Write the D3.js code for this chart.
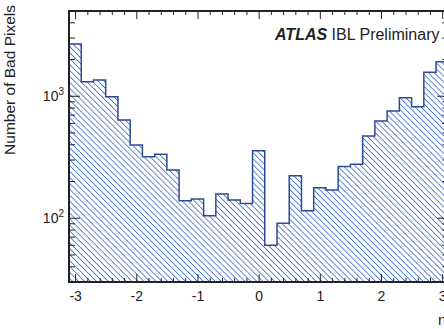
<!DOCTYPE html>
<html>
<head>
<meta charset="utf-8">
<script src="https://cdn.jsdelivr.net/npm/d3@7"></script>
<style>
  body { margin: 0; background: #fff; }
  svg { display: block; }
</style>
</head>
<body>
<svg id="vis" width="444" height="329"></svg>
<script>
// bin lower edges in eta, width 0.2
const binEdges = [-3.1, -2.9, -2.7, -2.5, -2.3, -2.1, -1.9, -1.7, -1.5, -1.3, -1.1, -0.9, -0.7, -0.5, -0.3, -0.1,
    0.1, 0.3, 0.5, 0.7, 0.9, 1.1, 1.3, 1.5, 1.7, 1.9, 2.1, 2.3, 2.5, 2.7, 2.9];
const badPixels = [2680, 1316, 1359, 992, 639, 398, 319, 334, 248, 139, 144, 105, 158, 141, 132, 358,
    60, 91, 223, 115, 178, 170, 265, 277, 472, 627, 757, 973, 821, 1572, 1920];
const xTicks = [-3, -2, -1, 0, 1, 2, 3];
const yMajor = [100, 1000];
const yMinor = [40, 50, 60, 70, 80, 90, 200, 300, 400, 500, 600, 700, 800, 900, 2000, 3000, 4000];

const margin = { top: 11, left: 69 };
const width = 379.3;
const height = 271;
const binW = 0.2;

const svg = d3.select('#vis');

const defs = svg.append('defs');
const pat = defs.append('pattern')
    .attr('id', 'hatch')
    .attr('patternUnits', 'userSpaceOnUse')
    .attr('width', 4.2)
    .attr('height', 4.2)
    .attr('patternTransform', 'rotate(-45)');
pat.append('rect').attr('width', 4.2).attr('height', 4.2).attr('fill', '#fff');
pat.append('line')
    .attr('x1', 0).attr('y1', 0).attr('x2', 0).attr('y2', 4.2)
    .attr('stroke', '#1f56c8').attr('stroke-width', 1.4);

defs.append('clipPath').attr('id', 'clip')
    .append('rect').attr('width', width).attr('height', height);

const g = svg.append('g')
    .attr('transform', 'translate(' + margin.left + ', ' + margin.top + ')');

const xScale = d3.scaleLinear().domain([-3.1, 3.1]).range([0, width]);
const yScale = d3.scaleLog().domain([30, 5000]).range([height, 0]);

// histogram outline
const pts = [[xScale(binEdges[0]), height]];
binEdges.forEach((e, i) => {
    pts.push([xScale(e), yScale(badPixels[i])]);
    pts.push([xScale(e + binW), yScale(badPixels[i])]);
});
pts.push([xScale(binEdges[binEdges.length - 1] + binW), height]);

const plot = g.append('g').attr('clip-path', 'url(#clip)');
plot.append('path')
    .attr('d', d3.line()(pts) + 'Z')
    .attr('fill', 'url(#hatch)')
    .attr('stroke', 'none');
plot.append('path')
    .attr('d', d3.line()(pts))
    .attr('fill', 'none')
    .attr('stroke', '#2d4a98')
    .attr('stroke-width', 1.5);

// x ticks, bottom and top
const xMinor = d3.range(-31, 32, 1).map(d => d / 10).filter(d => Math.abs(Math.round(d * 10)) % 2 === 0 && !Number.isInteger(d));

function xAxes(gen, ty, labels) {
    g.append('g')
        .attr('transform', 'translate(0, ' + ty + ')')
        .call(gen(xScale).tickValues(xMinor).tickSize(-4).tickFormat(''))
        .call(a => a.select('.domain').remove())
        .selectAll('line').attr('stroke', '#222').attr('stroke-width', 1);
    const maj = g.append('g')
        .attr('transform', 'translate(0, ' + ty + ')')
        .call(gen(xScale).tickValues(xTicks).tickSize(-8).tickPadding(9).tickFormat(''))
        .call(a => a.select('.domain').remove());
    maj.selectAll('line').attr('stroke', '#222').attr('stroke-width', 1);
    if (labels) {
        maj.selectAll('text')
            .attr('font-size', '14px')
            .attr('font-family', 'Liberation Sans, Arial, Helvetica')
            .attr('fill', '#222')
            .text(d => d < 0 ? '-' + Math.abs(d) : d);
    } else {
        maj.selectAll('text').remove();
    }
}
xAxes(d3.axisBottom, height, true);
xAxes(d3.axisTop, 0, false);

// y ticks, left and right
function yTicks(x0, dir) {
    g.append('g').selectAll('line')
        .data(yMinor).enter().append('line')
        .attr('x1', x0).attr('x2', x0 + dir * 6)
        .attr('y1', d => yScale(d)).attr('y2', d => yScale(d))
        .attr('stroke', '#222').attr('stroke-width', 1);
    g.append('g').selectAll('line')
        .data(yMajor).enter().append('line')
        .attr('x1', x0).attr('x2', x0 + dir * 11)
        .attr('y1', d => yScale(d)).attr('y2', d => yScale(d))
        .attr('stroke', '#222').attr('stroke-width', 1);
}
yTicks(0, 1);
yTicks(width, -1);

const yLab = g.append('g').selectAll('text')
    .data(yMajor).enter().append('text')
    .attr('x', -5)
    .attr('y', d => yScale(d) + 5)
    .attr('text-anchor', 'end')
    .attr('font-size', '14px')
    .attr('font-family', 'Liberation Sans, Arial, Helvetica')
    .attr('fill', '#222');
yLab.append('tspan').text('10');
yLab.append('tspan')
    .attr('font-size', '10px')
    .attr('dy', -6)
    .text(d => Math.round(Math.log10(d)));

// frame
g.append('rect')
    .attr('width', width)
    .attr('height', height)
    .attr('fill', 'none')
    .attr('stroke', '#222')
    .attr('stroke-width', 2);

// titles
svg.append('text')
    .attr('transform', 'translate(15, 5) rotate(-90)')
    .attr('text-anchor', 'end')
    .attr('font-size', '15.5px')
    .attr('font-family', 'Liberation Sans, Arial, Helvetica')
    .attr('fill', '#222')
    .text('Number of Bad Pixels');

svg.append('text')
    .attr('x', 438)
    .attr('y', 325)
    .attr('font-size', '15px')
    .attr('font-family', 'Liberation Sans, Arial, Helvetica')
    .attr('fill', '#222')
    .text('η');

const lab = svg.append('text')
    .attr('x', 275)
    .attr('y', 40)
    .attr('font-size', '16px')
    .attr('font-family', 'Liberation Sans, Arial, Helvetica')
    .attr('fill', '#222');
lab.append('tspan').attr('font-weight', 'bold').attr('font-style', 'italic').text('ATLAS');
lab.append('tspan').text(' IBL Preliminary');
</script>
</body>
</html>
